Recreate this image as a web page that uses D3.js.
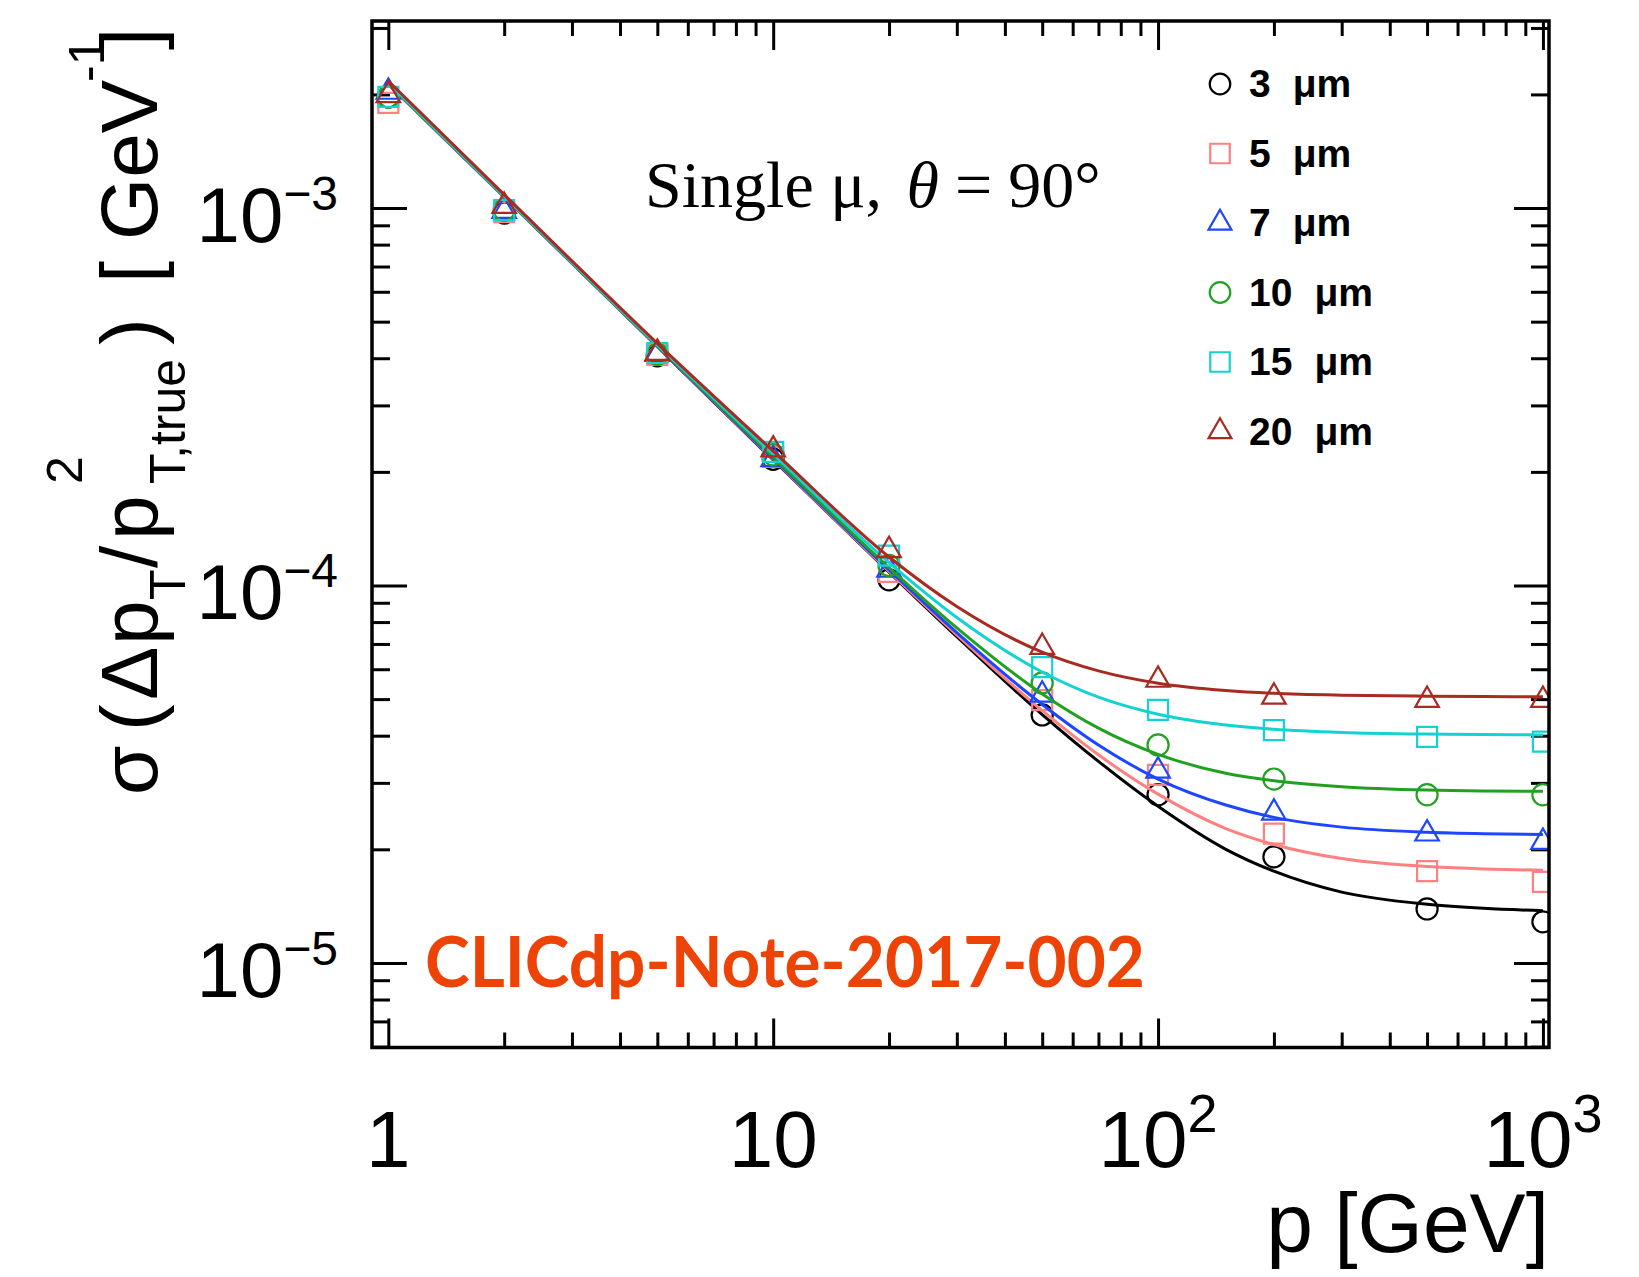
<!DOCTYPE html>
<html>
<head>
<meta charset="utf-8">
<script src="https://cdn.jsdelivr.net/npm/d3@7"></script>
<style>
  body { margin: 0; background: #fff; }
  svg { display: block; }
</style>
</head>
<body>
<div id="chart"></div>
<script>
// measured points (momentum in GeV)
const momenta = [1, 2, 5, 10, 20, 50, 100, 200, 500, 1000];
const resolutions = ['3 \u03bcm', '5 \u03bcm', '7 \u03bcm', '10 \u03bcm', '15 \u03bcm', '20 \u03bcm'];
const sigma3um  = [1.97e-3, 0.970e-3, 4.06e-4, 2.16e-4, 1.035e-4, 4.54e-5, 2.79e-5, 1.91e-5, 1.39e-5, 1.285e-5];
const sigma5um  = [1.90e-3, 0.976e-3, 4.08e-4, 2.19e-4, 1.086e-4, 4.97e-5, 3.15e-5, 2.20e-5, 1.75e-5, 1.64e-5];
const sigma7um  = [2.03e-3, 0.982e-3, 4.10e-4, 2.16e-4, 1.10e-4, 5.13e-5, 3.23e-5, 2.50e-5, 2.20e-5, 2.09e-5];
const sigma10um = [1.97e-3, 0.988e-3, 4.10e-4, 2.22e-4, 1.13e-4, 5.52e-5, 3.78e-5, 3.07e-5, 2.79e-5, 2.79e-5];
const sigma15um = [1.97e-3, 0.988e-3, 4.13e-4, 2.26e-4, 1.20e-4, 6.08e-5, 4.68e-5, 4.14e-5, 3.97e-5, 3.86e-5];
const sigma20um = [1.99e-3, 1.012e-3, 4.13e-4, 2.29e-4, 1.24e-4, 6.87e-5, 5.62e-5, 5.07e-5, 4.97e-5, 4.97e-5];

// fitted curves
const fitMomenta = [1, 2, 5, 10, 20, 30, 50, 70, 100, 150, 200, 300, 500, 700, 1000];
const fit3um  = [2.13e-3, 1.070e-3, 4.29e-4, 2.15e-4, 1.085e-4, 7.32e-5, 4.55e-5, 3.42e-5, 2.60e-5, 2.00e-5, 1.75e-5, 1.54e-5, 1.43e-5, 1.395e-5, 1.375e-5];
const fit5um  = [2.13e-3, 1.070e-3, 4.30e-4, 2.16e-4, 1.090e-4, 7.40e-5, 4.66e-5, 3.56e-5, 2.80e-5, 2.27e-5, 2.06e-5, 1.89e-5, 1.80e-5, 1.775e-5, 1.76e-5];
const fit7um  = [2.14e-3, 1.072e-3, 4.31e-4, 2.17e-4, 1.100e-4, 7.50e-5, 4.84e-5, 3.78e-5, 3.07e-5, 2.62e-5, 2.43e-5, 2.29e-5, 2.22e-5, 2.20e-5, 2.19e-5];
const fit10um = [2.14e-3, 1.074e-3, 4.32e-4, 2.19e-4, 1.115e-4, 7.72e-5, 5.16e-5, 4.19e-5, 3.57e-5, 3.18e-5, 3.04e-5, 2.93e-5, 2.87e-5, 2.855e-5, 2.85e-5];
const fit15um = [2.15e-3, 1.077e-3, 4.34e-4, 2.23e-4, 1.150e-4, 8.23e-5, 5.90e-5, 5.06e-5, 4.56e-5, 4.27e-5, 4.16e-5, 4.08e-5, 4.04e-5, 4.03e-5, 4.02e-5];
const fit20um = [2.17e-3, 1.085e-3, 4.38e-4, 2.27e-4, 1.190e-4, 8.80e-5, 6.66e-5, 5.94e-5, 5.51e-5, 5.27e-5, 5.18e-5, 5.12e-5, 5.09e-5, 5.08e-5, 5.07e-5];

const xMajorTicks = [1, 10, 100, 1000];
const xTickLabels = [['1', ''], ['10', ''], ['10', '2'], ['10', '3']];
const yMajorTicks = [1e-5, 1e-4, 1e-3];
const yTickLabels = [['10', '\u22125'], ['10', '\u22124'], ['10', '\u22123']];

const colors = ['#000000', '#ff8080', '#1e46ff', '#22a022', '#14d2d2', '#a82a20'];
const symbols = [d3.symbolCircle, d3.symbolSquare, d3.symbolTriangle, d3.symbolCircle, d3.symbolSquare, d3.symbolTriangle];
const symbolSizes = { circle: 350, square: 400, triangle: 240 };

const pointSets = [sigma3um, sigma5um, sigma7um, sigma10um, sigma15um, sigma20um];
const fitSets = [fit3um, fit5um, fit7um, fit10um, fit15um, fit20um];

const width = 1639;
const height = 1277;
const frame = {left: 372, right: 1549, top: 21, bottom: 1047.5};

const svg = d3.select('#chart')
  .append('svg')
    .attr('width', width)
    .attr('height', height)
    .attr('viewBox', [0, 0, width, height]);

svg.append('rect')
  .attr('width', width).attr('height', height).attr('fill', '#fff');

const x = d3.scaleLog()
  .domain([0.907, 1037])
  .range([frame.left, frame.right]);

const y = d3.scaleLog()
  .domain([5.97e-6, 3.13e-3])
  .range([frame.bottom, frame.top]);

// minor ticks 2..9 per decade
const minorTicks = (scale) => {
  const [lo, hi] = scale.domain();
  const out = [];
  for (let e = Math.floor(Math.log10(lo)); e <= Math.ceil(Math.log10(hi)); e++) {
    for (let k = 2; k <= 9; k++) {
      const v = k * Math.pow(10, e);
      if (v > lo * 1.001 && v < hi * 0.999) out.push(v);
    }
  }
  return out;
};

const tickStyle = (g) => {
  g.select('.domain').remove();
  g.selectAll('.tick line').attr('stroke', '#000').attr('stroke-width', 3);
  g.selectAll('.tick text').remove();
};

// x ticks (bottom + top)
svg.append('g').attr('transform', `translate(0,${frame.bottom})`)
  .call(d3.axisBottom(x).tickValues(xMajorTicks).tickSize(-29)).call(tickStyle);
svg.append('g').attr('transform', `translate(0,${frame.bottom})`)
  .call(d3.axisBottom(x).tickValues(minorTicks(x)).tickSize(-15)).call(tickStyle);
svg.append('g').attr('transform', `translate(0,${frame.top})`)
  .call(d3.axisTop(x).tickValues(xMajorTicks).tickSize(-29)).call(tickStyle);
svg.append('g').attr('transform', `translate(0,${frame.top})`)
  .call(d3.axisTop(x).tickValues(minorTicks(x)).tickSize(-15)).call(tickStyle);

// y ticks (left + right)
svg.append('g').attr('transform', `translate(${frame.left},0)`)
  .call(d3.axisLeft(y).tickValues(yMajorTicks).tickSize(-35)).call(tickStyle);
svg.append('g').attr('transform', `translate(${frame.left},0)`)
  .call(d3.axisLeft(y).tickValues(minorTicks(y)).tickSize(-18)).call(tickStyle);
svg.append('g').attr('transform', `translate(${frame.right},0)`)
  .call(d3.axisRight(y).tickValues(yMajorTicks).tickSize(-35)).call(tickStyle);
svg.append('g').attr('transform', `translate(${frame.right},0)`)
  .call(d3.axisRight(y).tickValues(minorTicks(y)).tickSize(-18)).call(tickStyle);

// tick labels
const font = '"Liberation Sans", Arial, Helvetica, sans-serif';

const xLabels = svg.append('g')
  .selectAll('text')
  .data(xMajorTicks)
  .join('text')
    .attr('x', d => x(d))
    .attr('y', 1167)
    .attr('text-anchor', 'middle')
    .attr('font-family', font)
    .attr('font-size', 80);
xLabels.append('tspan').text((d, i) => xTickLabels[i][0]);
xLabels.append('tspan')
  .attr('dy', -35)
  .attr('font-size', 54)
  .text((d, i) => xTickLabels[i][1]);

const yLabels = svg.append('g')
  .selectAll('text')
  .data(yMajorTicks)
  .join('text')
    .attr('x', 338)
    .attr('y', d => y(d) + 34)
    .attr('text-anchor', 'end')
    .attr('font-family', font)
    .attr('font-size', 78);
yLabels.append('tspan').text((d, i) => yTickLabels[i][0]);
yLabels.append('tspan')
  .attr('dy', -32)
  .attr('font-size', 48)
  .text((d, i) => yTickLabels[i][1]);

// axis titles
const xTitle = svg.append('text')
  .attr('x', 1549)
  .attr('y', 1252)
  .attr('text-anchor', 'end')
  .attr('font-family', font)
  .attr('font-size', 84);
xTitle.append('tspan').text('p');
xTitle.append('tspan').attr('dx', -2).text(' [GeV]');

// y title pieces placed along the rotated axis: [text, start (screen y), size, baseline (screen x)]
const yTitlePieces = [
  ['\u03c3', 795, 80, 157], ['(', 731, 80, 157], ['\u0394', 700, 80, 157], ['p', 645, 80, 157],
  ['T', 600, 50, 185], ['/', 568, 80, 157], ['p', 540, 80, 157],
  ['2', 484, 50, 82], ['T,true', 484, 50, 185], [')', 345, 80, 157],
  ['[', 283, 80, 157], ['GeV', 240, 80, 157], ['-1', 82, 50, 104], [']', 50, 80, 157]
];
svg.append('text')
  .attr('transform', 'rotate(-90)')
  .attr('font-family', font)
  .selectAll('tspan')
  .data(yTitlePieces)
  .join('tspan')
    .attr('x', d => -d[1])
    .attr('y', d => d[3])
    .attr('font-size', d => d[2])
    .text(d => d[0]);

// clip for markers at the frame edge
svg.append('clipPath').attr('id', 'plot-clip')
  .append('rect')
    .attr('x', frame.left).attr('y', frame.top)
    .attr('width', frame.right - frame.left)
    .attr('height', frame.bottom - frame.top);

const symbolSize = (s) => s === d3.symbolCircle ? symbolSizes.circle
  : s === d3.symbolSquare ? symbolSizes.square : symbolSizes.triangle;

const curveLine = d3.line()
  .x(d => x(d[0]))
  .y(d => y(d[1]))
  .curve(d3.curveMonotoneX);

const plot = svg.append('g').attr('clip-path', 'url(#plot-clip)');

pointSets.forEach((vals, i) => {
  const g = plot.append('g').attr('class', 'series');
  g.selectAll('path.marker')
    .data(momenta.map((p, j) => [p, vals[j]]))
    .join('path')
      .attr('class', 'marker')
      .attr('transform', d => `translate(${x(d[0])},${y(d[1])})`)
      .attr('d', d3.symbol().type(symbols[i]).size(symbolSize(symbols[i])))
      .attr('fill', 'none')
      .attr('stroke', colors[i])
      .attr('stroke-width', 2.2);
  g.append('path')
    .datum(fitMomenta.map((p, j) => [p, fitSets[i][j]]))
    .attr('d', curveLine)
    .attr('fill', 'none')
    .attr('stroke', colors[i])
    .attr('stroke-width', 3);
});

// frame
svg.append('rect')
  .attr('x', frame.left).attr('y', frame.top)
  .attr('width', frame.right - frame.left)
  .attr('height', frame.bottom - frame.top)
  .attr('fill', 'none')
  .attr('stroke', '#000')
  .attr('stroke-width', 3.5);

// legend
const legend = svg.append('g')
  .selectAll('g')
  .data(resolutions)
  .join('g')
    .attr('transform', (d, i) => `translate(1220,${84 + i * 69.5})`);

legend.append('path')
  .attr('d', (d, i) => d3.symbol().type(symbols[i]).size(symbolSize(symbols[i]) * 0.95)())
  .attr('fill', 'none')
  .attr('stroke', (d, i) => colors[i])
  .attr('stroke-width', 2.2);

legend.append('text')
  .attr('x', 29)
  .attr('y', 13)
  .attr('font-family', font)
  .attr('font-size', 39)
  .attr('font-weight', 'bold')
  .each(function(d) {
    const [num, unit] = d.split(' ');
    const t = d3.select(this);
    t.append('tspan').text(num);
    t.append('tspan').attr('dx', 22).text(unit);
  });

// annotation
const note = svg.append('text')
  .attr('x', 645)
  .attr('y', 207)
  .attr('font-family', '"Liberation Serif", "Times New Roman", serif')
  .attr('font-size', 66);
note.append('tspan').text('Single \u03bc, ');
note.append('tspan').attr('font-style', 'italic').attr('dx', 8).text('\u03b8');
note.append('tspan').attr('dx', 16).text('=');
note.append('tspan').attr('dx', 16).text('90\u00b0');

svg.append('text')
  .attr('x', 425)
  .attr('y', 987)
  .attr('font-family', 'Lato, "Noto Sans", sans-serif')
  .attr('font-weight', 'bold')
  .attr('font-size', 70)
  .attr('textLength', 720)
  .attr('lengthAdjust', 'spacingAndGlyphs')
  .attr('fill', '#ee4306')
  .text('CLICdp-Note-2017-002');
</script>
</body>
</html>
